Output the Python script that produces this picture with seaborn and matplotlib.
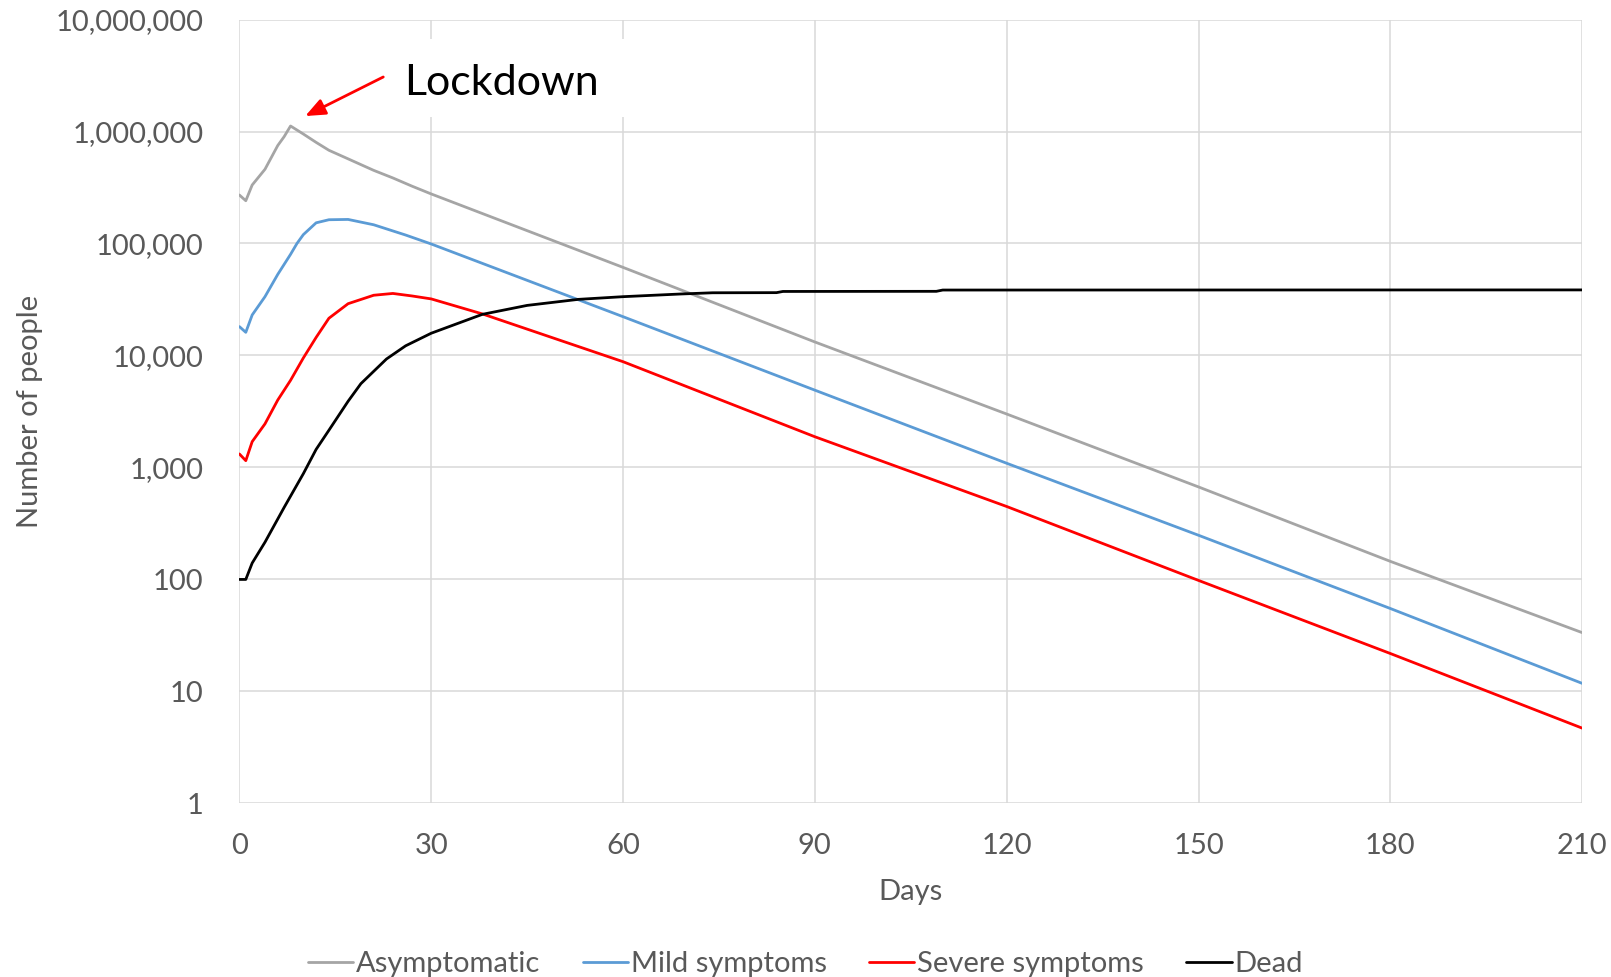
import pandas as pd
import matplotlib.pyplot as plt
import seaborn as sns
import numpy as np
from matplotlib.patches import Rectangle
from matplotlib.ticker import FixedLocator, FuncFormatter, NullLocator

# values (people, log scale)
asym_days = [0, 1, 2, 4, 6, 7, 8, 10, 12, 14, 17, 21, 24, 27, 30, 60, 90, 120, 150, 180, 210]
asym_vals = [271000, 241000, 333000, 460000, 750000, 900000, 1120000, 950000, 800000, 680000,
             570000, 450000, 385000, 325000, 277000, 61200, 13200, 3000, 670, 145, 33.5]

mild_days = [0, 1, 2, 4, 6, 8, 9, 10, 12, 14, 17, 21, 26, 30, 60, 90, 120, 150, 180, 210]
mild_vals = [18100, 16100, 23000, 33500, 53000, 80000, 100000, 120000, 153000, 163000,
             164000, 147000, 119000, 99000, 22200, 4900, 1090, 248, 55, 11.8]

severe_days = [0, 1, 2, 4, 6, 8, 10, 12, 14, 17, 21, 24, 27, 30, 38, 60, 90, 120, 150, 180, 210]
severe_vals = [1320, 1150, 1700, 2450, 4000, 6000, 9500, 14500, 21500, 29000, 34500, 35800,
               34000, 32000, 23500, 8800, 1880, 448, 98, 21.8, 4.7]

dead_days = [0, 1, 2, 4, 7, 10, 12, 14, 17, 19, 23, 26, 30, 38, 45, 53, 60, 69, 74, 84, 85, 109, 110, 210]
dead_vals = [100, 100, 140, 215, 440, 880, 1450, 2150, 3900, 5600, 9300, 12200, 15800, 23300,
             28000, 31700, 33500, 35400, 36300, 36400, 37300, 37400, 38400, 38500]

series_names = ['Asymptomatic', 'Mild symptoms', 'Severe symptoms', 'Dead']
series_colors = ['#A5A5A5', '#5B9BD5', '#FF0000', '#000000']
y_ticks = [1, 10, 100, 1000, 10000, 100000, 1000000, 10000000]
x_ticks = [0, 30, 60, 90, 120, 150, 180, 210]

frames = []
for name, d, v in zip(series_names,
                      [asym_days, mild_days, severe_days, dead_days],
                      [asym_vals, mild_vals, severe_vals, dead_vals]):
    frames.append(pd.DataFrame({'Days': d, 'People': v, 'Series': name}))
df = pd.concat(frames, ignore_index=True)

sns.set_theme(style='white')
plt.rcParams['font.family'] = ['Lato', 'DejaVu Sans']
text_col = '#595959'

fig = plt.figure(figsize=(16.11, 9.77), dpi=100)
ax = fig.add_axes([0.1486, 0.1777, 0.8335, 0.8023])

sns.lineplot(data=df, x='Days', y='People', hue='Series', hue_order=series_names,
             palette=dict(zip(series_names, series_colors)), estimator=None,
             linewidth=2.0, ax=ax, zorder=3)

ax.set_yscale('log')
ax.set_xlim(0, 210)
ax.set_ylim(1, 1e7)
ax.xaxis.set_major_locator(FixedLocator(x_ticks))
ax.yaxis.set_major_locator(FixedLocator(y_ticks))
ax.yaxis.set_minor_locator(NullLocator())
ax.yaxis.set_major_formatter(FuncFormatter(lambda v, p: f'{int(round(v)):,}'))

ax.grid(True, color='#D9D9D9', linewidth=1.1)
ax.set_axisbelow(True)
for s in ax.spines.values():
    s.set_visible(False)
ax.tick_params(axis='x', length=0, pad=21, labelsize=21, labelcolor=text_col)
ax.tick_params(axis='y', length=0, pad=26, labelsize=21, labelcolor=text_col)

ax.set_xlabel('Days', fontsize=21, color=text_col)
ax.xaxis.set_label_coords(0.5, -0.096)
ax.set_ylabel('Number of people', fontsize=21, color=text_col)
ax.yaxis.set_label_coords(-0.146, 0.5)

# white box behind the annotation (hides the gridlines there)
ax.add_patch(Rectangle((21, 10 ** 6.13), 45, 10 ** 6.83 - 10 ** 6.13,
                       facecolor='white', edgecolor='none', zorder=1))
ax.annotate('', xy=(10.3, 10 ** 6.138), xytext=(22.5, 10 ** 6.487),
            arrowprops=dict(arrowstyle='-|>,head_length=0.6,head_width=0.25',
                            color='red', lw=2, mutation_scale=20,
                            shrinkA=0, shrinkB=0), zorder=4)
ax.text(25.7, 10 ** 6.326, 'Lockdown', fontsize=31, color='black',
        ha='left', va='baseline', zorder=4)

handles, labels = ax.get_legend_handles_labels()
ax.get_legend().remove()
fig.legend(handles, labels, loc='center', bbox_to_anchor=(0.5, 0.0135), ncol=4,
           frameon=False, fontsize=21, labelcolor=text_col, handlelength=1.55,
           handletextpad=0.1, columnspacing=1.45, borderpad=0)

fig.savefig('out.png', dpi=100)
